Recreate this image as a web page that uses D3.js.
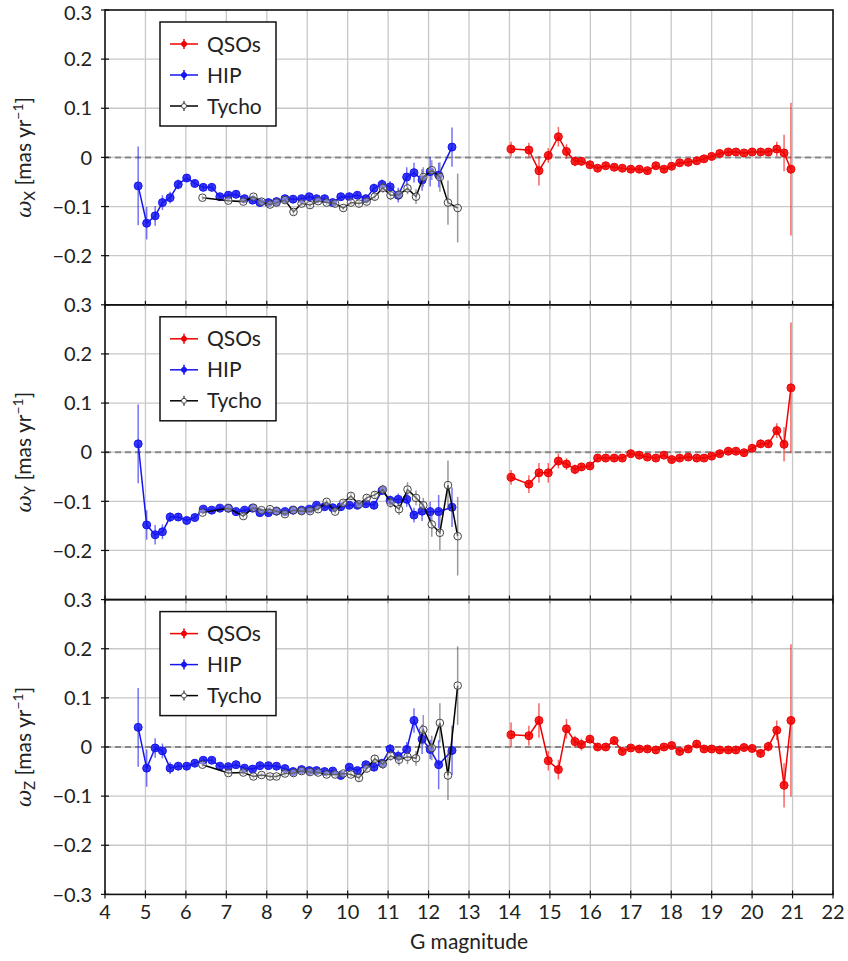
<!DOCTYPE html>
<html>
<head>
<meta charset="utf-8">
<script src="https://cdn.jsdelivr.net/npm/d3@7"></script>
<style>
  body { margin: 0; background: #fff; }
  text { font-family: Lato, "DejaVu Sans", sans-serif; fill: #222; }
</style>
</head>
<body>
<div id="chart"></div>
<script>
// magnitudes of the bins
const qsoMag = [14.04, 14.48, 14.73, 14.96, 15.21, 15.41, 15.62, 15.78, 15.99, 16.18, 16.38, 16.59, 16.79, 17.00, 17.21, 17.41, 17.62, 17.82, 18.01, 18.21, 18.42, 18.63, 18.81, 19.00, 19.20, 19.41, 19.60, 19.80, 20.00, 20.21, 20.40, 20.61, 20.79, 20.96];
const hipMag = [4.82, 5.03, 5.24, 5.42, 5.61, 5.81, 6.02, 6.22, 6.43, 6.64, 6.84, 7.05, 7.24, 7.45, 7.65, 7.83, 8.04, 8.24, 8.45, 8.65, 8.86, 9.05, 9.23, 9.43, 9.63, 9.83, 10.04, 10.24, 10.45, 10.65, 10.85, 11.05, 11.25, 11.46, 11.64, 11.84, 12.04, 12.25, 12.58];
const tycMag = [6.41, 7.05, 7.42, 7.67, 7.87, 8.08, 8.24, 8.45, 8.66, 8.86, 9.07, 9.27, 9.48, 9.69, 9.89, 10.08, 10.28, 10.47, 10.67, 10.87, 11.06, 11.27, 11.48, 11.69, 11.87, 12.08, 12.28, 12.48, 12.72];

// omega X
const qsoX = [0.017, 0.015, -0.027, 0.004, 0.042, 0.012, -0.008, -0.008, -0.015, -0.022, -0.017, -0.020, -0.022, -0.024, -0.024, -0.027, -0.017, -0.024, -0.018, -0.011, -0.010, -0.007, -0.003, 0.002, 0.008, 0.011, 0.011, 0.009, 0.011, 0.011, 0.011, 0.017, 0.009, -0.024];
const qsoXErr = [0.015, 0.015, 0.03, 0.015, 0.02, 0.015, 0.01, 0.008, 0.007, 0.006, 0.006, 0.006, 0.006, 0.006, 0.006, 0.006, 0.006, 0.006, 0.006, 0.006, 0.006, 0.006, 0.006, 0.006, 0.006, 0.006, 0.006, 0.006, 0.007, 0.007, 0.008, 0.015, 0.037, 0.135];
const hipX = [-0.058, -0.134, -0.119, -0.092, -0.082, -0.055, -0.042, -0.053, -0.061, -0.061, -0.080, -0.077, -0.075, -0.084, -0.087, -0.092, -0.092, -0.090, -0.084, -0.085, -0.084, -0.080, -0.084, -0.084, -0.092, -0.080, -0.080, -0.077, -0.084, -0.063, -0.055, -0.060, -0.077, -0.040, -0.031, -0.046, -0.029, -0.036, 0.021];
const hipXErr = [0.08, 0.033, 0.02, 0.015, 0.012, 0.01, 0.008, 0.007, 0.006, 0.006, 0.006, 0.006, 0.006, 0.006, 0.006, 0.006, 0.006, 0.006, 0.006, 0.006, 0.006, 0.006, 0.006, 0.006, 0.006, 0.006, 0.006, 0.007, 0.008, 0.01, 0.01, 0.012, 0.015, 0.02, 0.02, 0.022, 0.03, 0.025, 0.04];
const tycX = [-0.082, -0.088, -0.090, -0.080, -0.090, -0.096, -0.092, -0.087, -0.111, -0.094, -0.097, -0.089, -0.092, -0.094, -0.103, -0.092, -0.094, -0.090, -0.080, -0.062, -0.077, -0.076, -0.063, -0.080, -0.040, -0.026, -0.040, -0.092, -0.103];
const tycXErr = [0.005, 0.005, 0.005, 0.005, 0.005, 0.005, 0.005, 0.005, 0.006, 0.005, 0.005, 0.005, 0.005, 0.005, 0.005, 0.005, 0.006, 0.006, 0.007, 0.01, 0.01, 0.01, 0.012, 0.015, 0.02, 0.02, 0.03, 0.045, 0.07];

// omega Y
const qsoY = [-0.051, -0.065, -0.042, -0.042, -0.018, -0.024, -0.035, -0.030, -0.028, -0.012, -0.012, -0.012, -0.012, -0.003, -0.006, -0.010, -0.012, -0.006, -0.015, -0.012, -0.010, -0.012, -0.012, -0.008, -0.003, 0.002, 0.002, -0.001, 0.008, 0.017, 0.017, 0.044, 0.016, 0.131];
const qsoYErr = [0.015, 0.018, 0.02, 0.02, 0.015, 0.012, 0.01, 0.008, 0.007, 0.006, 0.006, 0.006, 0.006, 0.006, 0.006, 0.006, 0.006, 0.006, 0.006, 0.006, 0.006, 0.006, 0.006, 0.006, 0.006, 0.006, 0.006, 0.006, 0.007, 0.008, 0.008, 0.015, 0.035, 0.133];
const hipY = [0.017, -0.148, -0.168, -0.162, -0.132, -0.132, -0.139, -0.133, -0.116, -0.118, -0.114, -0.114, -0.121, -0.118, -0.114, -0.123, -0.123, -0.120, -0.121, -0.118, -0.118, -0.116, -0.108, -0.111, -0.113, -0.111, -0.108, -0.108, -0.105, -0.108, -0.078, -0.098, -0.096, -0.096, -0.128, -0.120, -0.121, -0.121, -0.112];
const hipYErr = [0.08, 0.03, 0.02, 0.015, 0.01, 0.008, 0.007, 0.006, 0.006, 0.006, 0.006, 0.006, 0.006, 0.006, 0.006, 0.006, 0.006, 0.006, 0.006, 0.006, 0.006, 0.006, 0.006, 0.006, 0.006, 0.006, 0.006, 0.006, 0.006, 0.007, 0.008, 0.01, 0.012, 0.015, 0.015, 0.02, 0.02, 0.034, 0.04];
const tycY = [-0.123, -0.114, -0.130, -0.113, -0.118, -0.116, -0.120, -0.126, -0.118, -0.120, -0.120, -0.116, -0.101, -0.121, -0.103, -0.089, -0.106, -0.093, -0.087, -0.076, -0.103, -0.116, -0.076, -0.093, -0.108, -0.147, -0.164, -0.067, -0.171];
const tycYErr = [0.005, 0.005, 0.005, 0.005, 0.005, 0.005, 0.005, 0.005, 0.005, 0.005, 0.005, 0.005, 0.005, 0.005, 0.006, 0.006, 0.006, 0.007, 0.008, 0.01, 0.01, 0.012, 0.015, 0.015, 0.015, 0.025, 0.035, 0.05, 0.08];

// omega Z
const qsoZ = [0.025, 0.023, 0.054, -0.028, -0.046, 0.037, 0.011, 0.005, 0.016, 0.0, 0.0, 0.013, -0.009, -0.002, -0.004, -0.004, -0.006, 0.0, 0.003, -0.009, -0.004, 0.006, -0.004, -0.004, -0.006, -0.006, -0.006, -0.001, -0.003, -0.013, 0.001, 0.034, -0.078, 0.054];
const qsoZErr = [0.025, 0.02, 0.035, 0.02, 0.02, 0.02, 0.012, 0.012, 0.008, 0.007, 0.007, 0.007, 0.006, 0.006, 0.006, 0.006, 0.006, 0.006, 0.006, 0.006, 0.006, 0.006, 0.006, 0.006, 0.006, 0.006, 0.006, 0.006, 0.007, 0.008, 0.01, 0.02, 0.045, 0.155];
const hipZ = [0.040, -0.043, -0.002, -0.008, -0.043, -0.039, -0.039, -0.033, -0.027, -0.027, -0.039, -0.040, -0.036, -0.043, -0.045, -0.038, -0.038, -0.039, -0.044, -0.050, -0.046, -0.048, -0.048, -0.050, -0.049, -0.058, -0.041, -0.048, -0.036, -0.041, -0.033, -0.004, -0.019, -0.005, 0.054, 0.016, -0.005, -0.036, -0.007];
const hipZErr = [0.08, 0.038, 0.02, 0.015, 0.012, 0.008, 0.007, 0.006, 0.006, 0.006, 0.006, 0.006, 0.006, 0.006, 0.006, 0.006, 0.006, 0.006, 0.006, 0.006, 0.006, 0.006, 0.006, 0.006, 0.006, 0.006, 0.006, 0.006, 0.007, 0.008, 0.008, 0.01, 0.012, 0.015, 0.025, 0.03, 0.02, 0.05, 0.05];
const tycZ = [-0.036, -0.053, -0.052, -0.060, -0.057, -0.060, -0.060, -0.054, -0.053, -0.049, -0.051, -0.052, -0.056, -0.056, -0.054, -0.056, -0.063, -0.044, -0.024, -0.035, -0.018, -0.026, -0.020, -0.023, 0.035, -0.002, 0.049, -0.058, 0.125];
const tycZErr = [0.005, 0.005, 0.005, 0.005, 0.005, 0.005, 0.005, 0.005, 0.005, 0.005, 0.005, 0.005, 0.005, 0.005, 0.005, 0.005, 0.006, 0.007, 0.008, 0.01, 0.01, 0.012, 0.015, 0.015, 0.03, 0.025, 0.04, 0.05, 0.08];

const xTicks = d3.range(4, 23, 1);
const yTicks = [0.3, 0.2, 0.1, 0, -0.1, -0.2, -0.3];
const panelLabels = ["X", "Y", "Z"];

const width = 848;
const height = 961;
const plotLeft = 105, plotRight = 833, plotTop = 10, panelH = 294.8;

const svg = d3.select("#chart").append("svg")
    .attr("width", width)
    .attr("height", height);

const x = d3.scaleLinear().domain([4, 22]).range([plotLeft, plotRight]);

const fmt = v => v === 0 ? "0" : (v < 0 ? "\u2212" : "") + Math.abs(v).toFixed(1);

const series = [
    {name: "QSOs", color: "#f00000", mag: qsoMag, vals: [qsoX, qsoY, qsoZ], errs: [qsoXErr, qsoYErr, qsoZErr]},
    {name: "HIP", color: "#1515f0", mag: hipMag, vals: [hipX, hipY, hipZ], errs: [hipXErr, hipYErr, hipZErr]},
    {name: "Tycho", color: "#000", mag: tycMag, vals: [tycX, tycY, tycZ], errs: [tycXErr, tycYErr, tycZErr], open: true}
];

panelLabels.forEach((lab, p) => {
    const y0 = plotTop + p * panelH;
    const y = d3.scaleLinear().domain([-0.3, 0.3]).range([y0 + panelH, y0]);
    const g = svg.append("g");

    // grid
    g.selectAll(".vgrid").data(xTicks.slice(1, -1)).join("line")
        .attr("x1", d => x(d)).attr("x2", d => x(d))
        .attr("y1", y0).attr("y2", y0 + panelH)
        .attr("stroke", "#c8c8c8").attr("stroke-width", 1.3);
    g.selectAll(".hgrid").data(yTicks.slice(1, -1)).join("line")
        .attr("x1", plotLeft).attr("x2", plotRight)
        .attr("y1", d => y(d)).attr("y2", d => y(d))
        .attr("stroke", "#c8c8c8").attr("stroke-width", 1.3);

    // zero line
    g.append("line")
        .attr("x1", plotLeft).attr("x2", plotRight)
        .attr("y1", y(0)).attr("y2", y(0))
        .attr("stroke", "#888").attr("stroke-width", 2)
        .attr("stroke-dasharray", "6,4");

    // data
    series.forEach(s => {
        const pts = s.mag.map((m, i) => ({m, v: s.vals[p][i], e: s.errs[p][i]}));
        const sg = g.append("g");
        sg.selectAll("line.err").data(pts).join("line")
            .attr("x1", d => x(d.m)).attr("x2", d => x(d.m))
            .attr("y1", d => y(d.v - d.e)).attr("y2", d => y(d.v + d.e))
            .attr("stroke", s.open ? "#555" : s.color)
            .attr("stroke-opacity", 0.6)
            .attr("stroke-width", 1.5);
        sg.append("path")
            .datum(pts)
            .attr("fill", "none")
            .attr("stroke", s.color)
            .attr("stroke-width", 1.5)
            .attr("d", d3.line().x(d => x(d.m)).y(d => y(d.v)));
        sg.selectAll("circle").data(pts).join("circle")
            .attr("cx", d => x(d.m)).attr("cy", d => y(d.v))
            .attr("r", s.open ? 3.8 : 4)
            .attr("fill", s.open ? "#fff" : s.color)
            .attr("fill-opacity", s.open ? 0.4 : 0.85)
            .attr("stroke", s.open ? "#444" : s.color)
            .attr("stroke-width", 1);
    });

    // frame
    g.append("rect")
        .attr("x", plotLeft).attr("y", y0)
        .attr("width", plotRight - plotLeft).attr("height", panelH)
        .attr("fill", "none").attr("stroke", "#111").attr("stroke-width", 1.6);

    // ticks (in-out)
    g.selectAll(".xt").data(xTicks).join("line")
        .attr("x1", d => x(d)).attr("x2", d => x(d))
        .attr("y1", y0 + panelH - 4).attr("y2", y0 + panelH + 4)
        .attr("stroke", "#111").attr("stroke-width", 1.2);
    const yt = p === 2 ? yTicks : yTicks.slice(0, -1);
    g.selectAll(".yt").data(yt).join("line")
        .attr("x1", plotLeft - 4).attr("x2", plotLeft + 4)
        .attr("y1", d => y(d)).attr("y2", d => y(d))
        .attr("stroke", "#111").attr("stroke-width", 1.2);
    // keep the topmost label inside the page
    g.selectAll(".ytl").data(yt).join("text")
        .attr("x", plotLeft - 13).attr("y", d => Math.max(y(d), 13))
        .attr("dy", "0.36em")
        .attr("text-anchor", "end")
        .attr("font-size", 20)
        .text(fmt);

    // y label
    const yl = g.append("text")
        .attr("transform", `translate(31,${y0 + panelH / 2}) rotate(-90)`)
        .attr("text-anchor", "middle")
        .attr("font-size", 21);
    yl.append("tspan").attr("font-family", "DejaVu Serif, serif").attr("font-style", "italic").text("\u03c9");
    yl.append("tspan").attr("font-size", 15).attr("dy", 4).text(lab);
    yl.append("tspan").attr("dy", -4).text(" [mas yr");
    yl.append("tspan").attr("font-size", 14).attr("dy", -8).text("\u22121");
    yl.append("tspan").attr("dy", 8).text("]");

    // legend
    const lg = g.append("g").attr("transform", `translate(160,${y0 + 12})`);
    lg.append("rect")
        .attr("width", 116).attr("height", 104)
        .attr("fill", "#fff").attr("stroke", "#111").attr("stroke-width", 1.5);
    series.forEach((s, i) => {
        const ly = 22 + i * 31;
        lg.append("line").attr("x1", 10).attr("x2", 38).attr("y1", ly).attr("y2", ly)
            .attr("stroke", s.color).attr("stroke-width", 1.5);
        lg.append("line").attr("x1", 24).attr("x2", 24).attr("y1", ly - 5).attr("y2", ly + 5)
            .attr("stroke", s.open ? "#555" : s.color).attr("stroke-width", 1.5);
        lg.append("circle").attr("cx", 24).attr("cy", ly).attr("r", 2.5)
            .attr("fill", s.open ? "#fff" : s.color)
            .attr("stroke", s.open ? "#444" : s.color);
        lg.append("text").attr("x", 47).attr("y", ly).attr("dy", "0.36em")
            .attr("font-size", 21).text(s.name);
    });
});

// x tick labels and title
const plotBottom = plotTop + 3 * panelH;
svg.selectAll(".xtl").data(xTicks).join("text")
    .attr("x", d => x(d)).attr("y", plotBottom + 25)
    .attr("text-anchor", "middle")
    .attr("font-size", 20)
    .text(d => d);
svg.append("text")
    .attr("x", (plotLeft + plotRight) / 2).attr("y", plotBottom + 55)
    .attr("text-anchor", "middle")
    .attr("font-size", 21)
    .text("G magnitude");
</script>
</body>
</html>
